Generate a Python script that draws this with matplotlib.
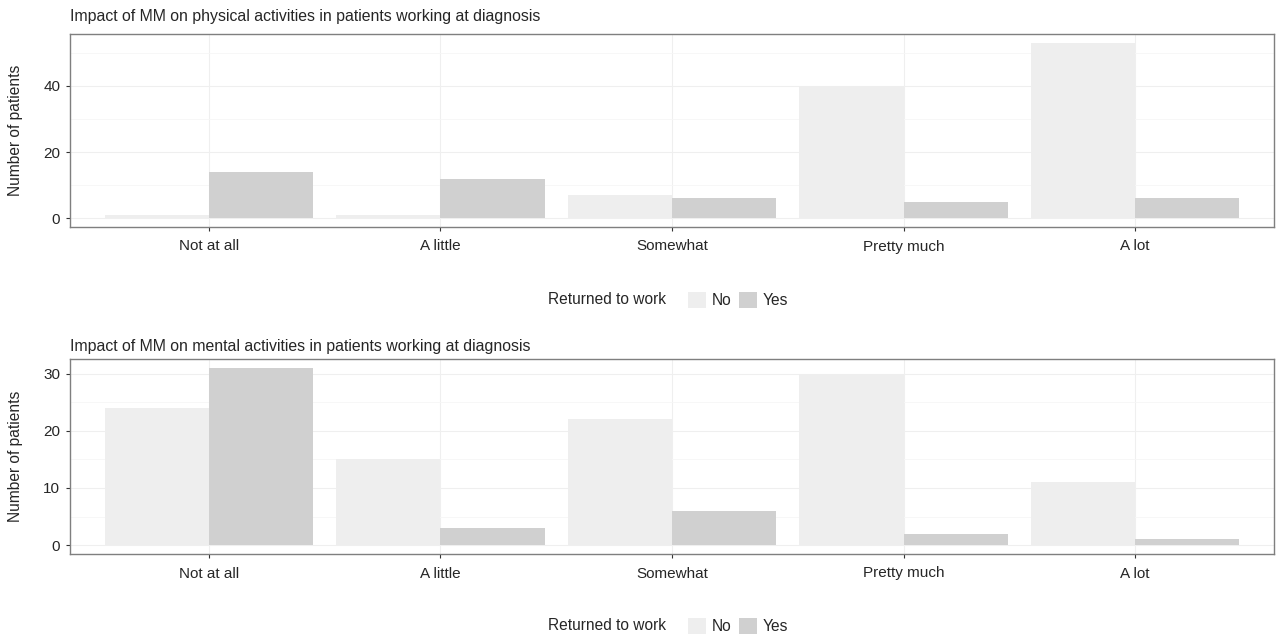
import numpy as np
import matplotlib.pyplot as plt
from matplotlib.patches import Patch
from matplotlib.ticker import MultipleLocator

plt.rcParams["font.family"] = ["Liberation Sans", "DejaVu Sans"]

categories = ["Not at all", "A little", "Somewhat", "Pretty much", "A lot"]
physical_no = [1, 1, 7, 40, 53]
physical_yes = [14, 12, 6, 5, 6]
mental_no = [24, 15, 22, 30, 11]
mental_yes = [31, 3, 6, 2, 1]

titles = [
    "Impact of MM on physical activities in patients working at diagnosis",
    "Impact of MM on mental activities in patients working at diagnosis",
]
col_no = "#eeeeee"
col_yes = "#d0d0d0"
txt = "#262626"

W, H = 1279, 636
fig = plt.figure(figsize=(W / 100, H / 100), dpi=100)


def add_ax(top, bottom):
    return fig.add_axes([70 / W, 1 - bottom / H, (1274 - 70) / W, (bottom - top) / H])


panels = [
    (add_ax(34, 227), physical_no, physical_yes, 20, 10, 300, 9),
    (add_ax(359, 554), mental_no, mental_yes, 10, 5, 626, 6),
]

x = np.arange(1, len(categories) + 1)
w = 0.45
for i, (ax, no, yes, major, minor, leg_y, tpad) in enumerate(panels):
    ax.set_axisbelow(True)
    ax.grid(True, which="major", color="#efefef", lw=0.8)
    ax.grid(True, which="minor", axis="y", color="#f6f6f6", lw=0.6)
    ax.bar(x - w / 2, no, width=w, color=col_no)
    ax.bar(x + w / 2, yes, width=w, color=col_yes)
    top = max(max(no), max(yes))
    ax.set_ylim(-0.05 * top, 1.05 * top)
    ax.set_xlim(0.4, len(categories) + 0.6)
    ax.yaxis.set_major_locator(MultipleLocator(major))
    ax.yaxis.set_minor_locator(MultipleLocator(minor))
    ax.set_xticks(x)
    ax.set_xticklabels(categories)
    ax.tick_params(which="major", length=3, color="#333333", labelsize=11,
                   labelcolor=txt, pad=4)
    ax.tick_params(axis="x", pad=6)
    ax.tick_params(which="minor", length=0)
    for s in ax.spines.values():
        s.set_color("#7f7f7f")
        s.set_linewidth(1.0)
    ax.set_ylabel("Number of patients", fontsize=11.2, color=txt, labelpad=6)
    ax.yaxis.set_label_coords(-47 / (1274 - 70), 0.5)
    ax.set_title(titles[i], loc="left", fontsize=11.4, color=txt, pad=tpad)

    fig.text(548 / W, 1 - leg_y / H, "Returned to work", fontsize=11.2,
             color=txt, va="center", ha="left")
    handles = [Patch(facecolor=col_no, edgecolor="none"),
               Patch(facecolor=col_yes, edgecolor="none")]
    fig.legend(handles, ["No", "Yes"], loc="center left",
               bbox_to_anchor=(680 / W, 1 - leg_y / H), ncol=2, frameon=False,
               fontsize=11.2, handlelength=1.15, handleheight=1.3,
               handletextpad=0.4, columnspacing=0.45, borderpad=0,
               labelcolor=txt)

fig.savefig("out.png", dpi=100)
